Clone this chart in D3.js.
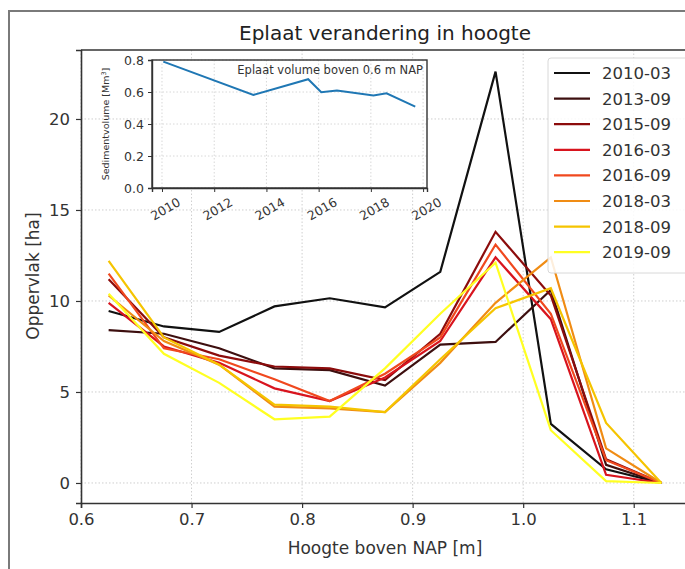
<!DOCTYPE html>
<html>
<head>
<meta charset="utf-8">
<script src="https://cdn.jsdelivr.net/npm/d3@7"></script>
<style>
  html, body { margin: 0; padding: 0; background: #fff; }
  svg { display: block; font-family: "DejaVu Sans", sans-serif; }
</style>
</head>
<body>
<svg id="chart" width="685" height="569"></svg>
<script>
// ---------- data ----------
const heights = [0.625, 0.675, 0.725, 0.775, 0.825, 0.875, 0.925, 0.975, 1.025, 1.075, 1.125];
const seriesNames = ["2010-03", "2013-09", "2015-09", "2016-03", "2016-09", "2018-03", "2018-09", "2019-09"];
const seriesColors = ["#111111", "#3d0f0f", "#8c0c0c", "#d8141e", "#f0481e", "#f08c14", "#f5c400", "#ffff22"];
const s2010_03 = [9.45, 8.6, 8.3, 9.7, 10.15, 9.65, 11.6, 22.6, 3.25, 0.75, 0];
const s2013_09 = [8.4, 8.2, 7.4, 6.3, 6.2, 5.35, 7.6, 7.75, 10.6, 1.0, 0];
const s2015_09 = [11.2, 8.0, 7.0, 6.4, 6.3, 5.65, 8.2, 13.8, 10.3, 1.3, 0];
const s2016_03 = [9.9, 7.5, 6.6, 5.2, 4.5, 5.8, 7.8, 12.4, 9.0, 0.45, 0];
const s2016_09 = [11.5, 7.4, 6.8, 5.7, 4.5, 6.0, 8.0, 13.1, 9.3, 1.25, 0];
const s2018_03 = [10.3, 7.8, 6.5, 4.2, 4.1, 3.9, 6.6, 9.9, 12.4, 1.9, 0];
const s2018_09 = [12.2, 8.0, 6.5, 4.3, 4.2, 3.9, 6.8, 9.6, 10.7, 3.3, 0];
const s2019_09 = [10.4, 7.1, 5.5, 3.5, 3.65, 6.3, 9.3, 12.1, 2.9, 0.1, 0];
const seriesValues = [s2010_03, s2013_09, s2015_09, s2016_03, s2016_09, s2018_03, s2018_09, s2019_09];

const xTicks = [0.6, 0.7, 0.8, 0.9, 1.0, 1.1];
const yTicks = [0, 5, 10, 15, 20];

// inset data
const volumeYears = [2010.05, 2013.5, 2015.6, 2016.1, 2016.7, 2018.1, 2018.6, 2019.7];
const volumeValues = [0.79, 0.582, 0.68, 0.598, 0.609, 0.578, 0.592, 0.509];
const insetXTicks = [2010, 2012, 2014, 2016, 2018, 2020];
const insetYTicks = [0.0, 0.2, 0.4, 0.6, 0.8];

const titleText = "Eplaat verandering in hoogte";
const xLabelText = "Hoogte boven NAP [m]";
const yLabelText = "Oppervlak [ha]";
const insetTitle = "Eplaat volume boven 0.6 m NAP";

// ---------- drawing ----------
const svg = d3.select("#chart");

// outer frame
svg.append("rect").attr("x", 9).attr("y", 11).attr("width", 700).attr("height", 600)
  .attr("fill", "#fff").attr("stroke", "#7a7a7a").attr("stroke-width", 2);

const M = {left: 81, right: 689, top: 50, bottom: 503};
const x = d3.scaleLinear().domain([0.6, 1.15]).range([M.left, M.right]);
const y = d3.scaleLinear().domain([-1.1, 23.79]).range([M.bottom, M.top]);

const main = svg.append("g");
// grid
main.append("g").selectAll("line").data(xTicks).join("line")
  .attr("x1", d => x(d)).attr("x2", d => x(d)).attr("y1", M.top).attr("y2", M.bottom)
  .attr("stroke", "#cfcfcf").attr("stroke-width", 1).attr("stroke-dasharray", "1.5,2");
main.append("g").selectAll("line").data(yTicks).join("line")
  .attr("x1", M.left).attr("x2", M.right).attr("y1", d => y(d)).attr("y2", d => y(d))
  .attr("stroke", "#cfcfcf").attr("stroke-width", 1).attr("stroke-dasharray", "1.5,2");

// lines
const line = d3.line().x((d, i) => x(heights[i])).y(d => y(d));
main.append("g").selectAll("path").data(seriesValues).join("path")
  .attr("d", d => line(d)).attr("fill", "none")
  .attr("stroke", (d, i) => seriesColors[i]).attr("stroke-width", 2.2)
  .attr("stroke-linejoin", "miter");

// axes
const xAxis = d3.axisBottom(x).tickValues(xTicks).tickFormat(d3.format(".1f")).tickSize(5).tickPadding(5);
const gx = main.append("g").attr("transform", `translate(0,${M.bottom})`).call(xAxis);
gx.select(".domain").attr("stroke", "#333").attr("stroke-width", 1.6);
gx.selectAll(".tick line").attr("stroke", "#333").attr("stroke-width", 1.2);
gx.selectAll("text").attr("font-size", 16.5).attr("fill", "#333").attr("font-family", "DejaVu Sans");

const yAxis = d3.axisLeft(y).tickValues(yTicks).tickSize(5).tickPadding(6);
const gy = main.append("g").attr("transform", `translate(${M.left},0)`).call(yAxis);
gy.select(".domain").attr("stroke", "#333").attr("stroke-width", 1.6);
gy.selectAll(".tick line").attr("stroke", "#333").attr("stroke-width", 1.2);
gy.selectAll("text").attr("font-size", 16.5).attr("fill", "#333").attr("font-family", "DejaVu Sans");

// top spine
main.append("line").attr("x1", M.left).attr("x2", M.right).attr("y1", M.top).attr("y2", M.top)
  .attr("stroke", "#333").attr("stroke-width", 1.6);

// title & labels
svg.append("text").attr("x", 385).attr("y", 40).attr("text-anchor", "middle")
  .attr("font-size", 20).attr("fill", "#222").text(titleText);
svg.append("text").attr("x", 385).attr("y", 554).attr("text-anchor", "middle")
  .attr("font-size", 17).attr("fill", "#333").text(xLabelText);
svg.append("text").attr("transform", "translate(39,276) rotate(-90)").attr("text-anchor", "middle")
  .attr("font-size", 17).attr("fill", "#333").text(yLabelText);

// legend
const lg = svg.append("g");
lg.append("rect").attr("x", 548).attr("y", 58).attr("width", 140).attr("height", 215)
  .attr("rx", 3).attr("fill", "#fff").attr("fill-opacity", 0.85).attr("stroke", "#d8d8d8");
const lgItems = lg.selectAll("g.item").data(seriesNames).join("g").attr("class", "item")
  .attr("transform", (d, i) => `translate(0,${73 + i * 25.6})`);
lgItems.append("line").attr("x1", 554).attr("x2", 590).attr("y1", 0).attr("y2", 0)
  .attr("stroke", (d, i) => seriesColors[i]).attr("stroke-width", 2.2);
lgItems.append("text").attr("x", 602).attr("y", 0).attr("dy", "0.36em")
  .attr("font-size", 16.5).attr("fill", "#333").text(d => d);

// ---------- inset ----------
const I = {left: 152, right: 427, top: 60, bottom: 188};
const xi = d3.scaleLinear().domain([2009.617, 2020.15]).range([I.left, I.right]);
const yi = d3.scaleLinear().domain([0, 0.8]).range([I.bottom, I.top]);
const inset = svg.append("g");
inset.append("rect").attr("x", I.left).attr("y", I.top).attr("width", I.right - I.left)
  .attr("height", I.bottom - I.top).attr("fill", "#fff");
inset.append("g").selectAll("line").data(insetXTicks).join("line")
  .attr("x1", d => xi(d)).attr("x2", d => xi(d)).attr("y1", I.top).attr("y2", I.bottom)
  .attr("stroke", "#d8d8d8").attr("stroke-dasharray", "1.5,2");
inset.append("g").selectAll("line").data(insetYTicks).join("line")
  .attr("x1", I.left).attr("x2", I.right).attr("y1", d => yi(d)).attr("y2", d => yi(d))
  .attr("stroke", "#d8d8d8").attr("stroke-dasharray", "1.5,2");

const vline = d3.line().x((d, i) => xi(volumeYears[i])).y(d => yi(d));
inset.append("path").attr("d", vline(volumeValues)).attr("fill", "none")
  .attr("stroke", "#1f77b4").attr("stroke-width", 2);

inset.append("text").attr("x", 423).attr("y", 74).attr("text-anchor", "end")
  .attr("font-size", 11.5).attr("fill", "#333").text(insetTitle);

const gxi = inset.append("g").attr("transform", `translate(0,${I.bottom})`)
  .call(d3.axisBottom(xi).tickValues(insetXTicks).tickFormat(d3.format("d")).tickSize(4).tickPadding(3));
gxi.select(".domain").attr("stroke", "#333").attr("stroke-width", 1.4);
gxi.selectAll(".tick line").attr("stroke", "#333");
gxi.selectAll("text").attr("font-size", 12.5).attr("fill", "#333").attr("font-family", "DejaVu Sans")
  .attr("text-anchor", "middle").attr("dy", "0.35em").attr("y", 0)
  .attr("transform", "translate(3,21) rotate(-30)");

const gyi = inset.append("g").attr("transform", `translate(${I.left},0)`)
  .call(d3.axisLeft(yi).tickValues(insetYTicks).tickFormat(d3.format(".1f")).tickSize(4).tickPadding(4));
gyi.select(".domain").attr("stroke", "#333").attr("stroke-width", 1.4);
gyi.selectAll(".tick line").attr("stroke", "#333");
gyi.selectAll("text").attr("font-size", 12.5).attr("fill", "#333").attr("font-family", "DejaVu Sans");

inset.append("rect").attr("x", I.left).attr("y", I.top).attr("width", I.right - I.left)
  .attr("height", I.bottom - I.top).attr("fill", "none").attr("stroke", "#333").attr("stroke-width", 1.4);

inset.append("text").attr("transform", `translate(109,${(I.top + I.bottom) / 2}) rotate(-90)`)
  .attr("text-anchor", "middle").attr("font-size", 9.5).attr("fill", "#333")
  .html("Sedimentvolume [Mm<tspan dy='-3' font-size='6.5'>3</tspan><tspan dy='3'>]</tspan>");
</script>
</body>
</html>
